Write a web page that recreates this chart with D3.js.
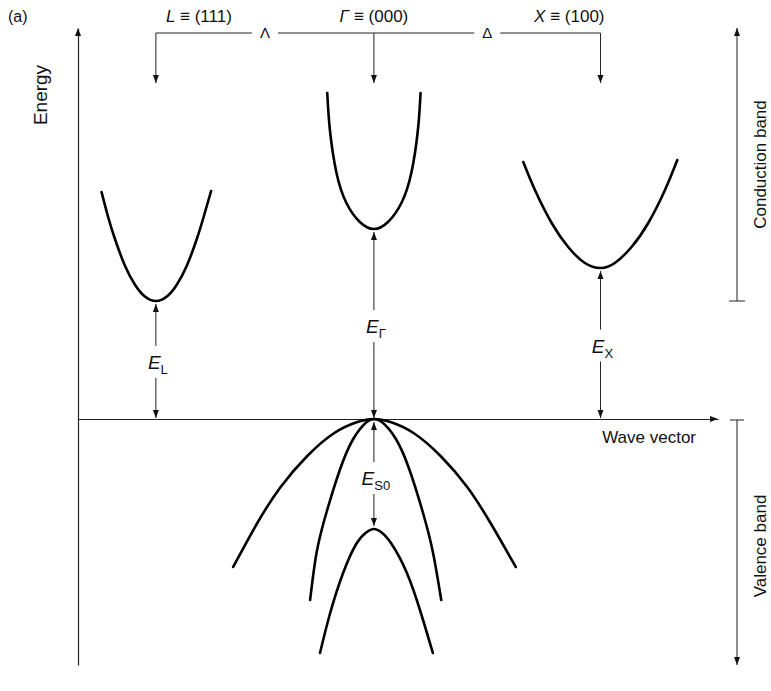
<!DOCTYPE html>
<html>
<head>
<meta charset="utf-8">
<script src="https://cdn.jsdelivr.net/npm/d3@7"></script>
<style>
  body { margin: 0; background: #fff; }
  text { font-family: "Liberation Sans", Arial, sans-serif; fill: #111; }
</style>
</head>
<body>
<div id="chart"></div>
<script>
// wave vector k (Gamma = 0) and energy E (top of valence band = 0), arbitrary units
var kRange = [-1.345, 1.564];
var eRange = [-2.46, 3.91];

// conduction band valleys, [k, E]
var valleyL = [[-1.238, 2.27], [-1.208, 2.02], [-1.177, 1.80], [-1.132, 1.535], [-1.086, 1.343], [-1.041, 1.225],
  [-0.991, 1.18], [-0.941, 1.225], [-0.896, 1.343], [-0.850, 1.535], [-0.805, 1.80], [-0.774, 2.02], [-0.740, 2.28]];
var valleyG = [[-0.212, 3.26], [-0.200, 2.89], [-0.170, 2.46], [-0.125, 2.16], [-0.064, 1.97], [0, 1.90],
  [0.064, 1.97], [0.125, 2.16], [0.170, 2.46], [0.200, 2.89], [0.212, 3.26]];
var valleyX = [[0.679, 2.57], [0.732, 2.29], [0.808, 1.96], [0.883, 1.72], [0.959, 1.56], [1.030, 1.51],
  [1.095, 1.56], [1.171, 1.72], [1.247, 1.96], [1.323, 2.29], [1.379, 2.59]];

// valence bands at Gamma
var heavyHole = [[-0.640, -1.48], [-0.530, -1.04], [-0.424, -0.68], [-0.303, -0.37], [-0.180, -0.14], [-0.075, -0.03],
  [0, 0], [0.075, -0.03], [0.180, -0.14], [0.303, -0.37], [0.424, -0.68], [0.530, -1.04], [0.645, -1.48]];
var lightHole = [[-0.290, -1.81], [-0.260, -1.33], [-0.215, -0.93], [-0.155, -0.51], [-0.094, -0.20], [-0.033, -0.03],
  [0, 0], [0.036, -0.03], [0.100, -0.20], [0.162, -0.51], [0.222, -0.93], [0.268, -1.33], [0.306, -1.81]];
var splitOff = [[-0.245, -2.34], [-0.200, -1.95], [-0.140, -1.54], [-0.079, -1.245], [-0.035, -1.135], [0, -1.10],
  [0.035, -1.135], [0.079, -1.245], [0.150, -1.54], [0.215, -1.95], [0.268, -2.34]];

var bands = [valleyL, valleyG, valleyX, heavyHole, lightHole, splitOff];

// symmetry points and the directions between them
var symNames = ["L", "\u0393", "X"];
var symIndex = ["(111)", "(000)", "(100)"];
var symK = [-0.991, 0, 1.03];
var dirNames = ["\u039b", "\u0394"];

// gaps: label, subscript, k, lower E, upper E
var gapLabels = ["E", "E", "E", "E"];
var gapSubs = ["L", "\u0393", "X", "S0"];
var gapK = [-0.991, 0, 1.03, 0];
var gapLow = [0, 0, 0, -1.10];
var gapHigh = [1.18, 1.90, 1.51, 0];

var width = 771, height = 691;
var svg = d3.select("#chart").append("svg")
  .attr("width", width).attr("height", height);

var x = d3.scaleLinear().domain(kRange).range([78, 718]);
var y = d3.scaleLinear().domain(eRange).range([665, 28]);

function head(px, py, angle) {
  svg.append("path")
    .attr("d", "M0,0L-8,-3L-8,3Z")
    .attr("transform", "translate(" + px + "," + py + ") rotate(" + angle + ")")
    .attr("fill", "#111");
}
function thin(x1, y1, x2, y2, w) {
  svg.append("line")
    .attr("x1", x1).attr("y1", y1).attr("x2", x2).attr("y2", y2)
    .attr("stroke", "#222").attr("stroke-width", w || 1);
}

// axes
svg.append("g")
  .attr("transform", "translate(0," + y(0) + ")")
  .call(d3.axisBottom(x).tickValues([]).tickSizeOuter(0));
svg.append("g")
  .attr("transform", "translate(" + x(kRange[0]) + ",0)")
  .call(d3.axisLeft(y).tickValues([]).tickSizeOuter(0));
svg.selectAll(".domain").attr("stroke", "#222").attr("stroke-width", 1.2);
head(x(kRange[1]), y(0), 0);
head(x(kRange[0]), y(eRange[1]), -90);

svg.append("text")
  .attr("x", x(kRange[1]) - 22).attr("y", y(0) + 24)
  .attr("text-anchor", "end").style("font-size", "17px")
  .text("Wave vector");
svg.append("text")
  .attr("transform", "translate(47," + 95 + ") rotate(-90)")
  .attr("text-anchor", "middle").style("font-size", "19px")
  .text("Energy");
svg.append("text")
  .attr("x", 8).attr("y", 22).style("font-size", "16px")
  .text("(a)");

// band curves
var line = d3.line()
  .x(function(d) { return x(d[0]); })
  .y(function(d) { return y(d[1]); })
  .curve(d3.curveNatural);
svg.selectAll(".band")
  .data(bands)
  .enter().append("path")
  .attr("class", "band")
  .attr("d", line)
  .attr("fill", "none")
  .attr("stroke", "#000")
  .attr("stroke-width", 2.6)
  .attr("stroke-linecap", "round");

// symmetry point bracket along the top
var topY = 33, tipY = 83;
for (var i = 0; i < symK.length; i++) {
  var sx = x(symK[i]);
  thin(sx, topY, sx, tipY);
  head(sx, tipY, 90);
}
for (var i = 0; i < dirNames.length; i++) {
  var a = x(symK[i]), b = x(symK[i + 1]);
  var m = (a + b) / 2;
  thin(a, topY, m - 13, topY);
  thin(m + 13, topY, b, topY);
  svg.append("text")
    .attr("x", m).attr("y", topY + 5)
    .attr("text-anchor", "middle").style("font-size", "15px")
    .text(dirNames[i]);
}
var anchors = ["start", "middle", "end"];
var shifts = [10, 0, 4];
for (var i = 0; i < symNames.length; i++) {
  var t = svg.append("text")
    .attr("x", x(symK[i]) + shifts[i]).attr("y", 22)
    .attr("text-anchor", anchors[i]).style("font-size", "17px");
  t.append("tspan").style("font-style", "italic").text(symNames[i]);
  t.append("tspan").text(" \u2261 " + symIndex[i]);
}

// gap arrows
for (var i = 0; i < gapK.length; i++) {
  var gx = x(gapK[i]);
  var yTop = y(gapHigh[i]) + 3, yBot = y(gapLow[i]) - 1;
  if (gapLow[i] < 0) { yBot = y(gapLow[i]) - 3; }
  var mid = (yTop + yBot) / 2 + (gapLow[i] < 0 ? 4 : 1);
  thin(gx, yTop, gx, mid - 16);
  thin(gx, mid + 16, gx, yBot);
  head(gx, yTop, -90);
  head(gx, yBot, 90);
  var t = svg.append("text")
    .attr("x", gx + 2).attr("y", mid + 7)
    .attr("text-anchor", "middle").style("font-size", "19px");
  t.append("tspan").style("font-style", "italic").text(gapLabels[i]);
  t.append("tspan").attr("dy", 5).style("font-size", "13px").text(gapSubs[i]);
}

// band region brackets on the right
var bx = x(kRange[1]) + 19;
var cbLow = d3.min([valleyL, valleyG, valleyX], function(v) { return d3.min(v, function(d) { return d[1]; }); });
thin(bx, y(cbLow), bx, y(eRange[1]));
thin(bx - 8, y(cbLow), bx + 8, y(cbLow));
head(bx, y(eRange[1]), -90);
thin(bx, y(0) + 1, bx, y(eRange[0]));
thin(bx - 7, y(0) + 1, bx + 7, y(0) + 1);
head(bx, y(eRange[0]), 90);

svg.append("text")
  .attr("transform", "translate(" + (bx + 29) + "," + (y((cbLow + eRange[1]) / 2)) + ") rotate(-90)")
  .attr("text-anchor", "middle").style("font-size", "17px")
  .text("Conduction band");
svg.append("text")
  .attr("transform", "translate(" + (bx + 29) + "," + (y(eRange[0] / 2) + 4) + ") rotate(-90)")
  .attr("text-anchor", "middle").style("font-size", "17px")
  .text("Valence band");
</script>
</body>
</html>
